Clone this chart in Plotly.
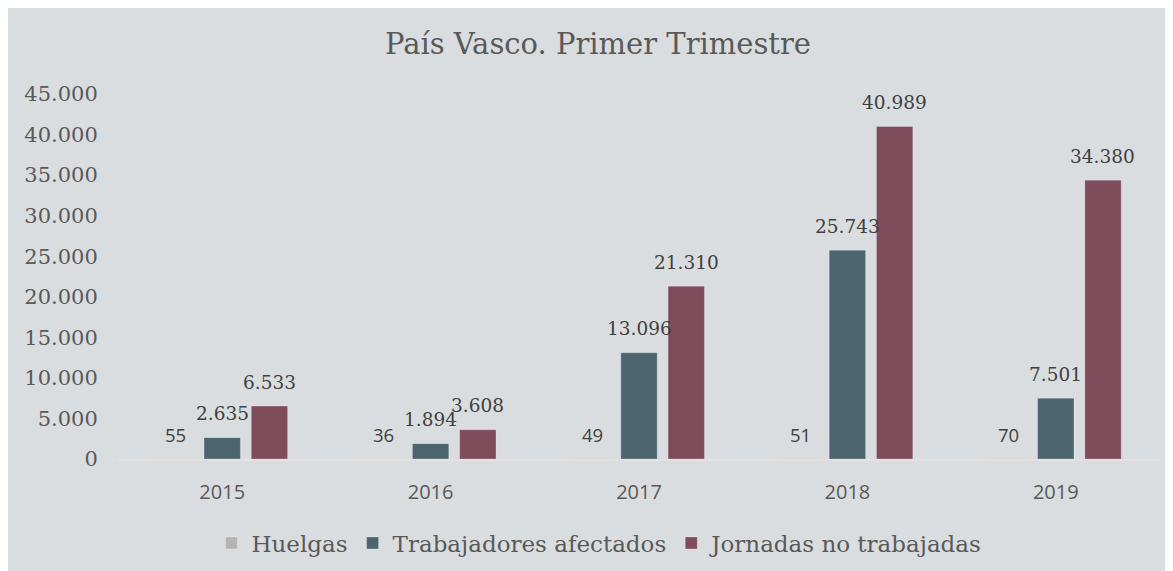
import plotly.graph_objects as go

years = ["2015", "2016", "2017", "2018", "2019"]
huelgas = [55, 36, 49, 51, 70]
trabajadores = [2635, 1894, 13096, 25743, 7501]
jornadas = [6533, 3608, 21310, 40989, 34380]

series_names = ["Huelgas", "Trabajadores afectados", "Jornadas no trabajadas"]
series_colors = ["#b4b4b4", "#4c6470", "#7e4c5a"]
series_values = [huelgas, trabajadores, jornadas]

SERIF = "DejaVu Serif"
SANS = "Open Sans"
BG = "#dadddf"

# the page body adds an 8px offset; target pixel positions are shifted by it
OFF = 8


def fmt(v):
    return f"{v:,}".replace(",", ".")


fig = go.Figure()
for name, color, vals in zip(series_names, series_colors, series_values):
    fig.add_trace(
        go.Bar(
            x=years,
            y=vals,
            name=name,
            marker=dict(color=color, line=dict(color="rgba(255,255,255,0.25)", width=1)),
        )
    )

# Data labels above the bars (category index, so "2015" is not read as a position)
annotations = []
for i, vals in enumerate(series_values):
    for k, v in enumerate(vals):
        annotations.append(
            dict(
                x=k,
                y=v,
                xref="x",
                yref="y",
                text=fmt(v),
                showarrow=False,
                xshift=(i - 1) * 47,
                yshift=24,
                yanchor="middle",
                font=dict(family=SANS if i == 0 else SERIF, size=18.5, color="#404040"),
            )
        )

fig.update_layout(
    width=1173,
    height=571,
    paper_bgcolor=BG,
    plot_bgcolor=BG,
    barmode="group",
    bargap=0.32,
    bargroupgap=0.23,
    separators=",.",
    margin=dict(l=118 - OFF, r=13 + OFF, t=94 - OFF, b=112 + OFF, pad=0),
    title=dict(
        text="País Vasco. Primer Trimestre",
        x=(598 - OFF) / 1173,
        xref="container",
        xanchor="center",
        y=1 - (44 - OFF) / 571,
        yref="container",
        yanchor="middle",
        font=dict(family=SERIF, size=29, color="#595959"),
    ),
    legend=dict(
        orientation="h",
        x=(600 - OFF) / 1173,
        xref="container",
        xanchor="center",
        y=1 - (543 - OFF) / 571,
        yref="container",
        yanchor="middle",
        font=dict(family=SERIF, size=23, color="#595959"),
        itemwidth=30,
        bgcolor="rgba(0,0,0,0)",
    ),
    annotations=annotations,
)

fig.update_xaxes(
    type="category",
    range=[-0.5, len(years) - 0.5],
    showline=True,
    linecolor="#e4e1de",
    linewidth=2,
    showgrid=False,
    ticks="outside",
    ticklen=14,
    tickcolor="rgba(0,0,0,0)",
    tickfont=dict(family=SANS, size=20, color="#595959"),
)
fig.update_yaxes(
    range=[0, 45000],
    dtick=5000,
    tickformat=",d",
    showgrid=False,
    zeroline=False,
    showline=False,
    ticks="outside",
    ticklen=15,
    tickcolor="rgba(0,0,0,0)",
    tickfont=dict(family=SERIF, size=21, color="#595959"),
)

fig.write_html("out.html")
